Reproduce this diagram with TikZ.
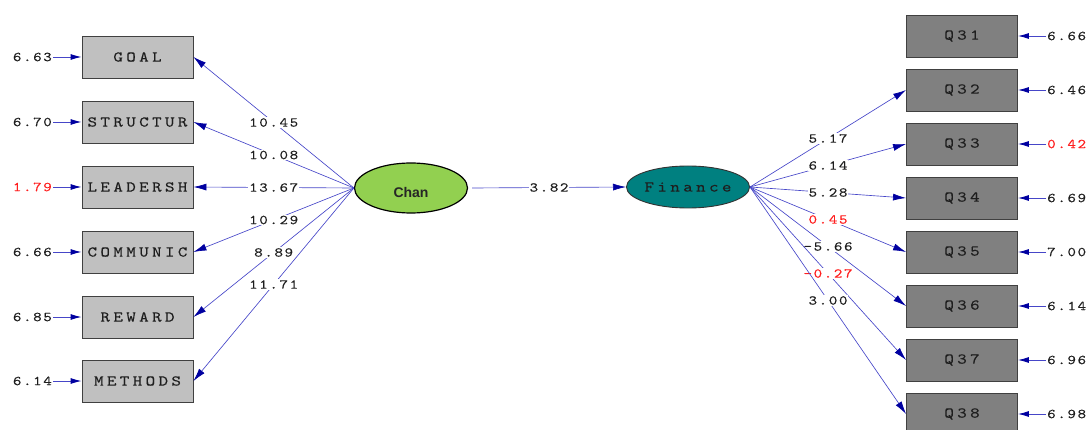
\documentclass[tikz,border=0pt]{standalone}
\usepackage{fontspec}
\newfontfamily\lisfont{lmmono10-regular.otf}[FakeStretch=1.22,FakeBold=0.2,LetterSpace=22]
\newfontfamily\numfont{lmmono10-regular.otf}[FakeStretch=1.2,FakeBold=0.2,LetterSpace=12]
\newfontfamily\chanfont{Liberation Sans}
\usetikzlibrary{arrows.meta,shapes.geometric}
\definecolor{lineblue}{RGB}{70,70,200}
\definecolor{headblue}{RGB}{0,0,160}
\definecolor{boxL}{RGB}{192,192,192}
\definecolor{boxR}{RGB}{128,128,128}
\definecolor{chanfill}{RGB}{146,208,80}
\definecolor{finfill}{RGB}{0,128,128}
\definecolor{numred}{RGB}{255,30,30}
\definecolor{txt}{RGB}{30,30,30}
\tikzset{
  obsL/.style={draw=black!75, line width=0.9pt, fill=boxL, minimum width=111pt, minimum height=42pt, inner sep=0pt, text=txt, font=\fontsize{15}{15}\lisfont},
  obsR/.style={obsL, fill=boxR},
  lbl/.style={fill=white, inner sep=1pt, text=txt, font=\fontsize{13.5}{13.5}\numfont},
  num/.style={inner sep=1pt, text=txt, font=\fontsize{13.5}{13.5}\numfont},
  redlbl/.style={text=numred},
  conn/.style={draw=lineblue, line width=0.65pt, -{Latex[length=13pt,width=7pt,color=headblue]}},
  errconn/.style={draw=lineblue, line width=0.9pt, -{Latex[length=11pt,width=6pt,color=headblue]}}
}
\begin{document}
\begin{tikzpicture}[x=1pt,y=-1pt]
\useasboundingbox (0,0) rectangle (1086,430);
\clip (0,0) rectangle (1086,430);
% left observed
\node[obsL] (goal) at (137.5,57) {GOAL};
\node[obsL] (struc) at (137.5,122) {STRUCTUR};
\node[obsL] (lead) at (137.5,187) {LEADERSH};
\node[obsL] (comm) at (137.5,252) {COMMUNIC};
\node[obsL] (rew) at (137.5,317) {REWARD};
\node[obsL] (meth) at (137.5,381) {METHODS};
% left errors
\node[num,anchor=east] (e1) at (53,57) {6.63};
\node[num,anchor=east] (e2) at (53,122) {6.70};
\node[num,anchor=east,redlbl] (e3) at (53,187) {1.79};
\node[num,anchor=east] (e4) at (53,252) {6.66};
\node[num,anchor=east] (e5) at (53,317) {6.85};
\node[num,anchor=east] (e6) at (53,381) {6.14};
\draw[errconn] (e1.east) -- (goal.west);
\draw[errconn] (e2.east) -- (struc.west);
\draw[errconn] (e3.east) -- (lead.west);
\draw[errconn] (e4.east) -- (comm.west);
\draw[errconn] (e5.east) -- (rew.west);
\draw[errconn] (e6.east) -- (meth.west);
% latent
\node[ellipse, draw=black, line width=1.2pt, fill=chanfill, minimum width=113pt, minimum height=50pt, inner sep=0pt] (chan) at (411,188) {};
\node[font=\fontsize{14}{14}\chanfont\bfseries, text=black!85] (chanlbl) at (411,192) {Chan};
\node[ellipse, draw=black!80, line width=0.9pt, fill=finfill, minimum width=112pt, minimum height=42pt, inner sep=0pt, text=txt, font=\fontsize{15}{15}\lisfont] (fin) at (688,187) {Finance};
% left paths
\draw[conn] (chan.west) -- node[lbl] {10.45} (goal.east);
\draw[conn] (chan.west) -- node[lbl] {10.08} (struc.east);
\draw[conn] (chan.west) -- node[lbl] {13.67} (lead.east);
\draw[conn] (chan.west) -- node[lbl] {10.29} (comm.east);
\draw[conn] (chan.west) -- node[lbl] {8.89} (rew.east);
\draw[conn] (chan.west) -- node[lbl] {11.71} (meth.east);
% structural
\draw[conn] ([xshift=4pt]chan.east) -- node[lbl] {3.82} (fin.west);
% right observed
\node[obsR] (q31) at (962,36) {Q31};
\node[obsR] (q32) at (962,90) {Q32};
\node[obsR] (q33) at (962,144) {Q33};
\node[obsR] (q34) at (962,198) {Q34};
\node[obsR] (q35) at (962,252) {Q35};
\node[obsR] (q36) at (962,306) {Q36};
\node[obsR] (q37) at (962,360) {Q37};
\node[obsR] (q38) at (962,414) {Q38};
% right paths
\draw[conn] (fin.east) -- node[lbl] {5.17} (q32.west);
\draw[conn] (fin.east) -- node[lbl] {6.14} (q33.west);
\draw[conn] (fin.east) -- node[lbl] {5.28} (q34.west);
\draw[conn] (fin.east) -- node[lbl,redlbl] {0.45} (q35.west);
\draw[conn] (fin.east) -- node[lbl] {-5.66} (q36.west);
\draw[conn] (fin.east) -- node[lbl,redlbl] {-0.27} (q37.west);
\draw[conn] (fin.east) -- node[lbl] {3.00} (q38.west);
% right errors
\node[num,anchor=west] (r1) at (1046,36) {6.66};
\node[num,anchor=west] (r2) at (1046,90) {6.46};
\node[num,anchor=west,redlbl] (r3) at (1046,144) {0.42};
\node[num,anchor=west] (r4) at (1046,198) {6.69};
\node[num,anchor=west] (r5) at (1046,252) {7.00};
\node[num,anchor=west] (r6) at (1046,306) {6.14};
\node[num,anchor=west] (r7) at (1046,360) {6.96};
\node[num,anchor=west] (r8) at (1046,414) {6.98};
\draw[errconn] (r1.west) -- (q31.east);
\draw[errconn] (r2.west) -- (q32.east);
\draw[errconn] (r3.west) -- (q33.east);
\draw[errconn] (r4.west) -- (q34.east);
\draw[errconn] (r5.west) -- (q35.east);
\draw[errconn] (r6.west) -- (q36.east);
\draw[errconn] (r7.west) -- (q37.east);
\draw[errconn] (r8.west) -- (q38.east);
\end{tikzpicture}
\end{document}
